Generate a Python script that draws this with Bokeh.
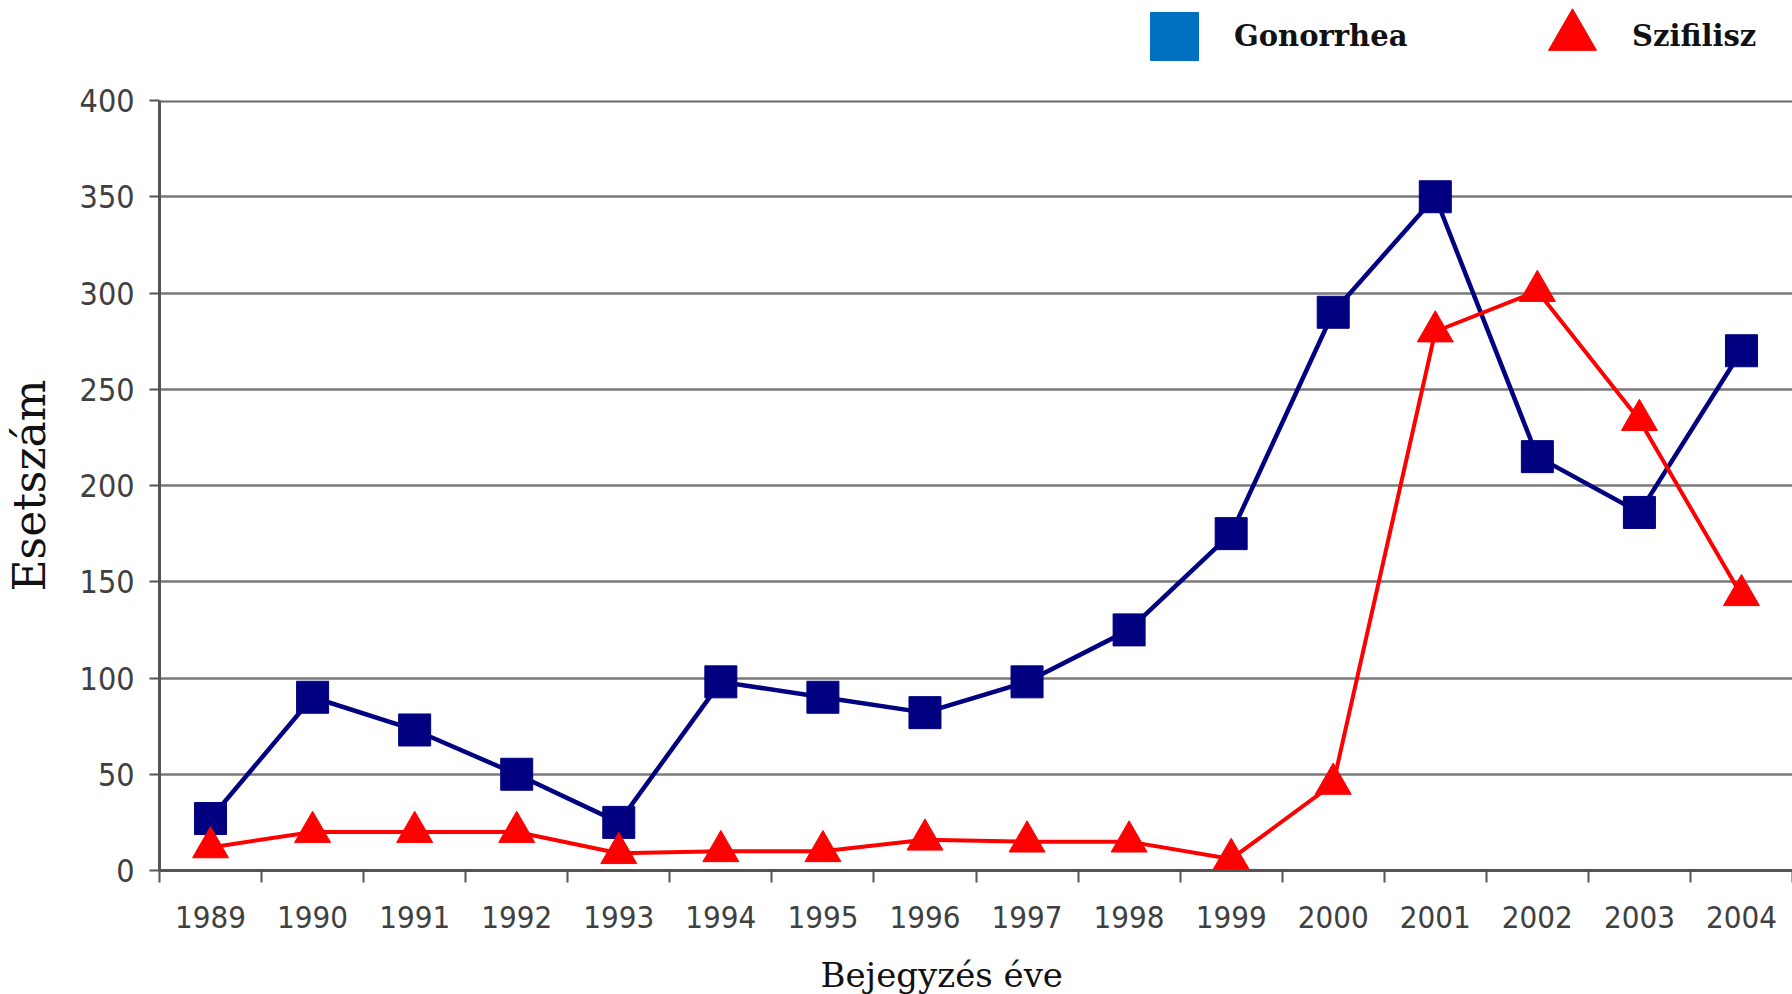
from bokeh.plotting import figure
from bokeh.layouts import column
from bokeh.models import Range1d, FixedTicker, Legend, LegendItem, Span, Label
from bokeh.embed import file_html
from bokeh.resources import INLINE

# ---- data ----
years = [1989, 1990, 1991, 1992, 1993, 1994, 1995, 1996,
         1997, 1998, 1999, 2000, 2001, 2002, 2003, 2004]
year_labels = [str(y) for y in years]
gonorrhea = [27, 90, 73, 50, 25, 98, 90, 82, 98, 125, 175, 290, 350, 215, 186, 270]
szifilisz = [12, 20, 20, 20, 9, 10, 10, 16, 15, 15, 6, 45, 280, 301, 234, 143]
y_ticks = [0, 50, 100, 150, 200, 250, 300, 350, 400]
series_names = ["Gonorrhea", "Szifilisz"]
x_title = "Bejegyzés éve"
y_title = "Esetszám"

TICK_FONT = "DejaVu Sans Condensed, Liberation Sans"
SERIF = "DejaVu Serif"

W = 1792


def strip(height):
    f = figure(width=W, height=height, output_backend="svg", toolbar_location=None,
               x_range=Range1d(0, 1), y_range=Range1d(0, 1),
               x_axis_type=None, y_axis_type=None, min_border=0,
               background_fill_color="white", border_fill_color="white",
               outline_line_color=None)
    f.xgrid.visible = False
    f.ygrid.visible = False
    return f


# ---------- main chart ----------
p = figure(width=W, height=864, output_backend="svg", toolbar_location=None,
           x_range=Range1d(years[0] - 0.5, years[-1] + 0.5),
           y_range=Range1d(y_ticks[0], y_ticks[-1]),
           min_border_left=159, min_border_right=0, min_border_top=30, min_border_bottom=64,
           background_fill_color="white", border_fill_color="white",
           outline_line_color=None)

p.xgrid.grid_line_color = None
p.ygrid.ticker = FixedTicker(ticks=y_ticks)
p.ygrid.grid_line_color = "#7a7a7a"
p.ygrid.grid_line_width = 2.5

ya = p.yaxis[0]
ya.ticker = FixedTicker(ticks=y_ticks)
ya.axis_line_color = "#555555"
ya.axis_line_width = 3
ya.major_tick_line_color = "#555555"
ya.major_tick_line_width = 2
ya.major_tick_out = 10
ya.major_tick_in = 0
ya.minor_tick_line_color = None
ya.major_label_standoff = 15
ya.major_label_text_font = TICK_FONT
ya.major_label_text_font_size = "32px"
ya.major_label_text_color = "#404040"
ya.axis_label = y_title
ya.axis_label_text_font = SERIF
ya.axis_label_text_font_size = "44px"
ya.axis_label_text_font_style = "normal"
ya.axis_label_text_color = "#111111"
ya.axis_label_standoff = 22

xa = p.xaxis[0]
xa.ticker = FixedTicker(ticks=years,
                        minor_ticks=[y - 0.5 for y in years] + [years[-1] + 0.5])
xa.major_label_overrides = {y: lbl for y, lbl in zip(years, year_labels)}
xa.axis_line_color = "#555555"
xa.axis_line_width = 3
xa.major_tick_line_color = None
xa.major_tick_out = 0
xa.major_tick_in = 0
xa.minor_tick_line_color = "#555555"
xa.minor_tick_line_width = 2
xa.minor_tick_out = 12
xa.minor_tick_in = 0
xa.major_label_standoff = 23
xa.major_label_text_font = TICK_FONT
xa.major_label_text_font_size = "31px"
xa.major_label_text_color = "#404040"

# top border line at the axis maximum
p.add_layout(Span(location=y_ticks[-1], dimension="width",
                  line_color="#666666", line_width=4))

p.line(years, gonorrhea, line_color="#000080", line_width=4.5)
p.scatter(years, gonorrhea, marker="square", size=32,
          fill_color="#000080", line_color="#000080")
p.line(years, szifilisz, line_color="#FF0000", line_width=4)
p.scatter(years, szifilisz, marker="triangle", size=36,
          fill_color="#FF0000", line_color="#FF0000")

# ---------- legend strip above the chart ----------
# (strip frames are aligned with the chart frame by the column layout)
lf = strip(70)
# legend swatch renderers: the series data lies outside this strip's ranges,
# so only their legend glyphs show
lg1 = lf.scatter(years, gonorrhea, marker="square", fill_color="#0070C0", line_color="#0070C0")
lg2 = lf.scatter(years, szifilisz, marker="triangle", fill_color="#FF0000", line_color="#FF0000")
legend = Legend(items=[LegendItem(label=series_names[0], renderers=[lg1]),
                       LegendItem(label=series_names[1], renderers=[lg2])],
                orientation="horizontal", location=(955, -26),
                glyph_width=120, glyph_height=120, label_standoff=0,
                label_width=278, spacing=0, padding=0, margin=0,
                background_fill_alpha=0, border_line_color=None,
                label_text_font=SERIF, label_text_font_size="29px",
                label_text_font_style="bold", label_text_color="#111111")
lf.add_layout(legend)

# ---------- x title strip below the chart ----------
bf = strip(60)
bf.add_layout(Label(x=661, y=20, x_units="screen", y_units="screen",
                    text=x_title, text_font=SERIF, text_font_size="34px",
                    text_color="#111111", text_baseline="alphabetic", text_align="left"))

layout = column(lf, p, bf, spacing=0)
open("out.html", "w").write(file_html(layout, INLINE))
